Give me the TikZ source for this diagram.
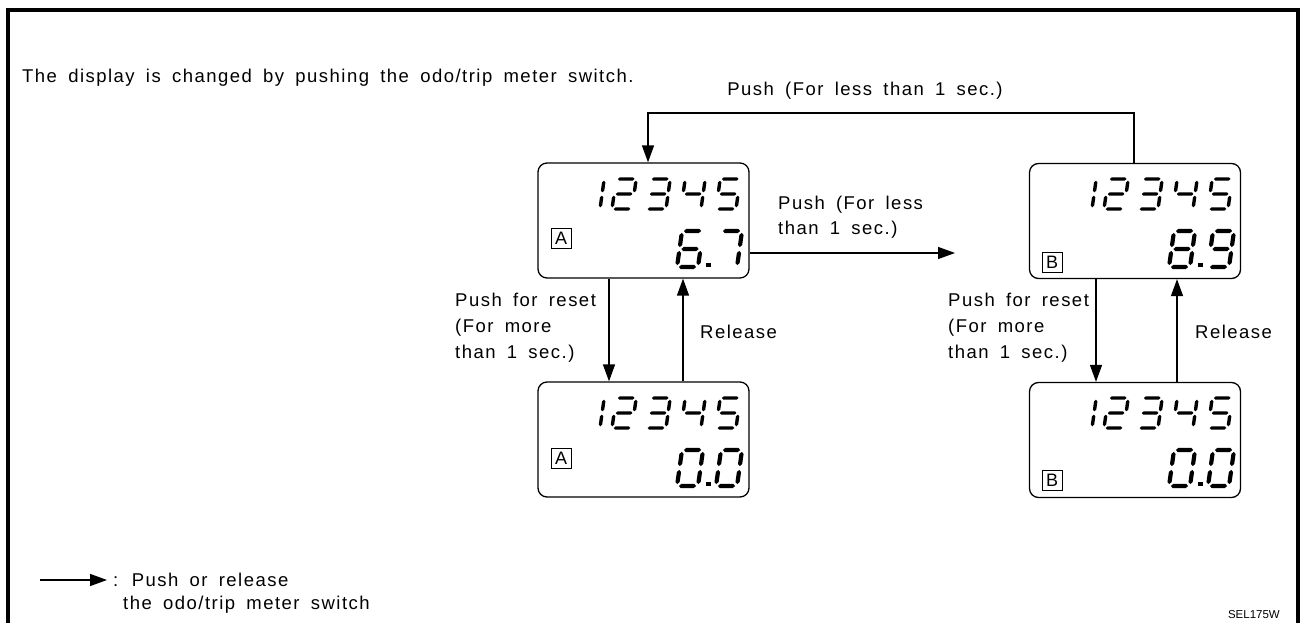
\documentclass[tikz,border=0pt]{standalone}
\usepackage{fontspec}
\setmainfont{Liberation Sans}[LetterSpace=8, WordSpace=1.7]
\newfontfamily\plainfont{Liberation Sans}
\usetikzlibrary{arrows.meta}
\newcommand\hseg[3]{\fill (#1,#3) -- (#1+\tu,#3+\tv) -- (#2-\tu,#3+\tv) -- (#2,#3) -- (#2-\tu,#3-\tv) -- (#1+\tu,#3-\tv) -- cycle;}
\newcommand\vseg[3]{\fill (#1,#2) -- (#1+\tu,#2+\tv) -- (#1+\tu,#3-\tv) -- (#1,#3) -- (#1-\tu,#3-\tv) -- (#1-\tu,#2+\tv) -- cycle;}
\pgfkeys{
 /sev/a/.code={\hseg{\gu}{1-\gu}{1}},
 /sev/b/.code={\vseg{1}{0.5+\gv}{1-\gv}},
 /sev/c/.code={\vseg{1}{\gv}{0.5-\gv}},
 /sev/d/.code={\hseg{\gu}{1-\gu}{0}},
 /sev/e/.code={\vseg{0}{\gv}{0.5-\gv}},
 /sev/f/.code={\vseg{0}{0.5+\gv}{1-\gv}},
 /sev/g/.code={\hseg{\gu}{1-\gu}{0.5}},
}
\newcommand\sevdigit[7]{% x0, y0, width, height, thickness, gap, segments
  \pgfmathsetmacro\tu{#5/(2*#3)}\pgfmathsetmacro\tv{#5/(2*#4)}%
  \pgfmathsetmacro\gu{#6/#3}\pgfmathsetmacro\gv{#6/#4}%
  \begin{scope}[shift={(#1,#2)}, x={(#3pt,0pt)}, y={(0.14*#4pt,#4pt)}]
  \foreach \s in {#7}{\pgfkeys{/sev/\s}}%
  \end{scope}}
\newcommand\topnum[2]{%
  \sevdigit{#1+42}{#2+46}{20}{30}{3.4}{1.7}{b,c}
  \sevdigit{#1+74}{#2+46}{20}{30}{3.4}{1.7}{a,b,g,e,d}
  \sevdigit{#1+108}{#2+46}{20}{30}{3.4}{1.7}{a,b,g,c,d}
  \sevdigit{#1+143}{#2+46}{20}{30}{3.4}{1.7}{f,g,b,c}
  \sevdigit{#1+178}{#2+46}{20}{30}{3.4}{1.7}{a,f,g,c,d}}
\newcommand\botnum[4]{%
  \sevdigit{#1+139}{#2+104}{21}{36}{4.2}{1.9}{#3}
  \fill (#1+168,#2+99.5) rectangle ++(4.5,4.5);
  \sevdigit{#1+178}{#2+104}{21}{36}{4.2}{1.9}{#4}}
\begin{document}
\begin{tikzpicture}[x=1pt,y=-1pt,
  disp/.style={draw, line width=1.3pt, rounded corners=9pt, minimum width=211pt, minimum height=115pt, inner sep=0pt},
  conn/.style={line width=1.4pt, -{Triangle[length=17pt,width=12pt]}},
  lbl/.style={anchor=base west, inner sep=0pt, font=\fontsize{18.5}{20}\selectfont},
  letterbox/.style={draw, line width=1pt, minimum size=20pt, inner sep=0pt, font=\plainfont\fontsize{18}{18}\selectfont},
]
\useasboundingbox (0,0) rectangle (1302,623);
\fill[white] (0,0) rectangle (1302,623);
\draw[line width=3.5pt] (8,630) -- (8,10) -- (1298,10) -- (1298,630);

% displays
\node[disp] (A1) at (643.5,220.5) {};
\node[disp] (A2) at (643.5,439.5) {};
\node[disp] (B1) at (1135,221) {};
\node[disp] (B2) at (1135,440) {};

\topnum{538}{163}
\topnum{538}{382}
\topnum{1030}{163}
\topnum{1030}{382}
\botnum{538}{163}{a,f,g,e,c,d}{a,b,c}
\botnum{538}{382}{a,b,c,d,e,f}{a,b,c,d,e,f}
\botnum{1030}{163}{a,b,c,d,e,f,g}{a,b,c,d,f,g}
\botnum{1030}{382}{a,b,c,d,e,f}{a,b,c,d,e,f}

\node[letterbox] (la1) at (561,238) {A};
\node[letterbox] (la2) at (561,458) {A};
\node[letterbox] (lb1) at (1052,262) {B};
\node[letterbox] (lb2) at (1052,480) {B};

% texts
\node[lbl] (hdr) at (22,83) {The display is changed by pushing the odo/trip meter switch.};
\node[lbl, anchor=base] (ptop) at (865,96) {Push (For less than 1 sec.)};
\node[lbl] (pm1) at (778,209) {Push (For less};
\node[lbl] (pm2) at (778,234) {than 1 sec.)};
\node[lbl] (ra1) at (455,306) {Push for reset};
\node[lbl] (ra2) at (455,332) {(For more};
\node[lbl] (ra3) at (455,358) {than 1 sec.)};
\node[lbl] (rla) at (700,338) {Release};
\node[lbl] (rb1) at (948,306) {Push for reset};
\node[lbl] (rb2) at (948,332) {(For more};
\node[lbl] (rb3) at (948,358) {than 1 sec.)};
\node[lbl] (rlb) at (1195,338) {Release};
\node[lbl] (lg1) at (113,586) {: Push or release};
\node[lbl] (lg2) at (123,609) {the odo/trip meter switch};
\node[anchor=base east, inner sep=0pt, font=\plainfont\fontsize{11.5}{12}\selectfont] (sel) at (1280,618) {SEL175W};

% connectors
\coordinate (tl) at (648,113);
\coordinate (tr) at (1134,113);
\draw[conn] (tr |- B1.north) -- (tr) -- (tl) -- (tl |- A1.north);
\coordinate (hend) at (955,253);
\draw[conn] (hend -| A1.east) -- (hend);
\coordinate (xa) at (609,0);
\coordinate (xb) at (683,0);
\coordinate (xc) at (1096,0);
\coordinate (xd) at (1177,0);
\draw[conn] (xa |- A1.south) -- (xa |- A2.north);
\draw[conn] (xb |- A2.north) -- (xb |- A1.south);
\draw[conn] (xc |- B1.south) -- (xc |- B2.north);
\draw[conn] (xd |- B2.north) -- (xd |- B1.south);
\coordinate (lgs) at (40,580);
\coordinate (lge) at (107,580);
\draw[conn] (lgs) -- (lge);
\end{tikzpicture}
\end{document}
